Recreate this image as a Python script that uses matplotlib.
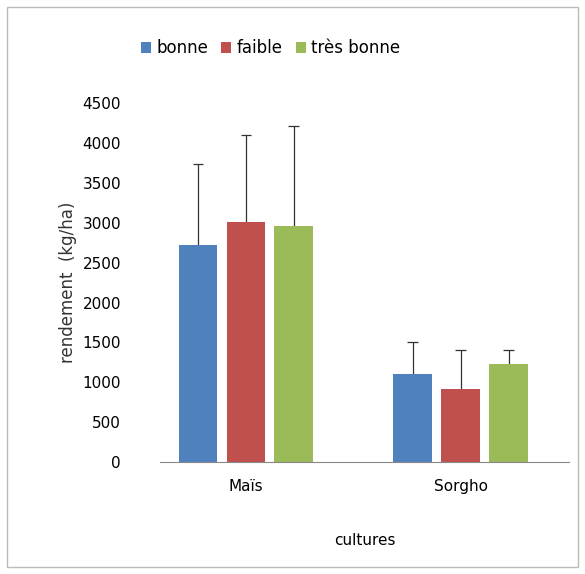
import matplotlib.pyplot as plt
import numpy as np
from matplotlib.patches import Rectangle

cultures = ["Maïs", "Sorgho"]
series = ["bonne", "faible", "très bonne"]
values = {"bonne": [2720, 1110], "faible": [3010, 920], "très bonne": [2960, 1230]}
errors = {"bonne": [1020, 400], "faible": [1090, 480], "très bonne": [1250, 170]}
colors = ["#4F81BD", "#C0504D", "#9BBB59"]

fig = plt.figure(figsize=(5.85, 5.74), dpi=100)
fig.patches.append(Rectangle((0.012, 0.012), 0.976, 0.976, transform=fig.transFigure,
                             fill=False, edgecolor="#BBBBBB", linewidth=1))
ax = fig.add_axes([0.2735, 0.195, 0.70, 0.6254])

x = np.arange(len(cultures))
w = 0.18
step = 0.223
for i, (s, c) in enumerate(zip(series, colors)):
    pos = x + (i - 1) * step
    ax.bar(pos, values[s], w, color=c, label=s, zorder=2)
    tops = np.array(values[s]) + np.array(errors[s])
    ax.vlines(pos, values[s], tops, color="#333333", linewidth=0.9, zorder=1)
    ax.hlines(tops, pos - 0.025, pos + 0.025, color="#333333", linewidth=0.9, zorder=1)

ax.set_xlim(-0.4, 1.507)
ax.set_ylim(0, 4500)
ax.set_yticks(range(0, 4501, 500))
ax.set_xticks(x)
ax.set_xticklabels(cultures, fontsize=11)
ax.tick_params(axis="y", length=0, labelsize=11, pad=28)
ax.tick_params(axis="x", length=0, pad=12)
for sp in ["top", "right", "left"]:
    ax.spines[sp].set_visible(False)
ax.spines["bottom"].set_color("#888888")
ax.set_ylabel("rendement  (kg/ha)", fontsize=12, color="#333333")
ax.set_xlabel("cultures", fontsize=11, labelpad=28)
ax.legend(loc="upper center", bbox_to_anchor=(0.27, 1.22), ncol=3, frameon=False,
          fontsize=12, handlelength=0.6, handleheight=0.6, columnspacing=0.8, handletextpad=0.3)

fig.savefig("out.png")
